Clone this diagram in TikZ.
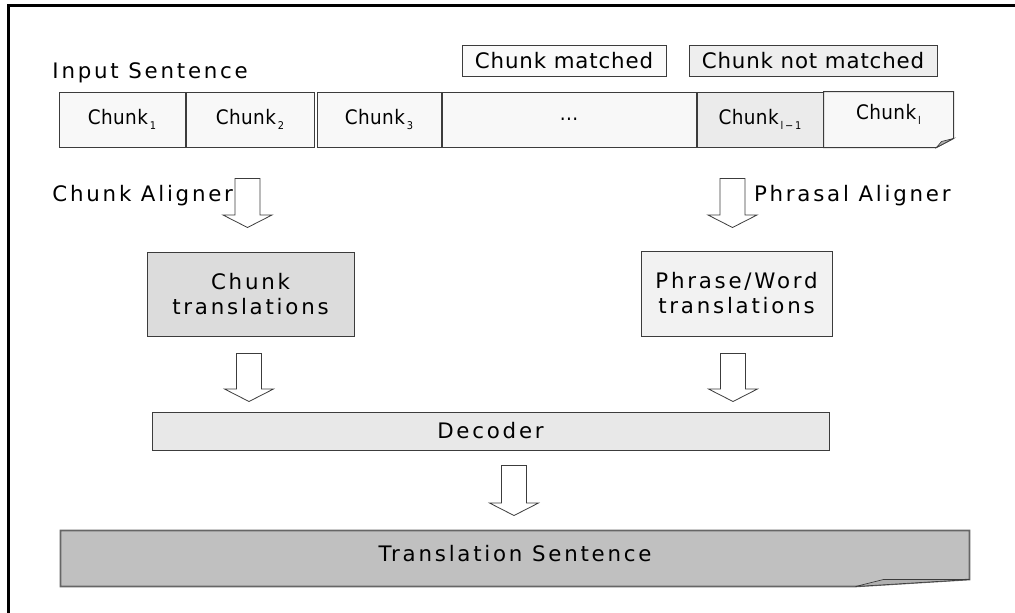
\documentclass[tikz,border=0pt]{standalone}
\usepackage{fontspec}
\setmainfont{DejaVu Sans}
\newfontfamily\wideface{DejaVu Sans}[LetterSpace=13]
\newfontfamily\legendface{DejaVu Sans}[LetterSpace=4]
\newfontfamily\chunkface{DejaVu Sans}[LetterSpace=2, FakeStretch=0.92]
\usetikzlibrary{positioning,calc}

\definecolor{boxline}{HTML}{3C3C3C}
\definecolor{cellfill}{HTML}{F8F8F8}
\definecolor{openfill}{HTML}{EBEBEB}
\definecolor{matchfill}{HTML}{FAFAFA}
\definecolor{nomatchfill}{HTML}{EEEEEE}
\definecolor{ctransfill}{HTML}{DCDCDC}
\definecolor{ptransfill}{HTML}{F2F2F2}
\definecolor{decoderfill}{HTML}{E8E8E8}
\definecolor{transfill}{HTML}{C0C0C0}
\definecolor{flapfill}{HTML}{B0B0B0}

\tikzset{every picture/.style={line width=0.75pt}}
\tikzset{
    lbl/.style={font=\wideface\fontsize{16}{18.75}\selectfont, inner sep=0pt},
    legendbox/.style={draw=boxline, font=\legendface\fontsize{16}{18}\selectfont, minimum height=23.25pt, inner sep=0pt},
    chunkcell/.style={draw=boxline, fill=cellfill, minimum height=41.25pt, inner sep=0pt, font=\chunkface\fontsize{15}{18}\selectfont},
    stagebox/.style={draw=boxline, font=\wideface\fontsize{16}{18.75}\selectfont, align=center, inner sep=0pt},
    arrowbox/.style={draw=boxline, fill=white, line width=0.6pt, line join=miter}
}
\newcommand{\sub}[1]{\kern1.5pt\raisebox{-3.5pt}{\fontsize{8}{8}\selectfont #1}}
\newcommand{\blockarrow}[2]{%
    \draw[arrowbox] ($(#1)+(-12.5,0)$) -- ($(#2)+(-12.5,-12.5)$) -- ($(#2)+(-24.5,-12.5)$) -- (#2)
        -- ($(#2)+(24.5,-12.5)$) -- ($(#2)+(12.5,-12.5)$) -- ($(#1)+(12.5,0)$) -- cycle;}

\begin{document}
\begin{tikzpicture}[x=0.75pt,y=0.75pt,yscale=-1,xscale=1]
    \clip (0,0) rectangle (1015,612);
    %Frame
    \draw[line width=2.25pt] (8,5) rectangle (1040,640);

    %Legend
    \node[legendbox, fill=matchfill, minimum width=153pt] (lmatch) at (564,60.5) {Chunk matched};
    \node[legendbox, fill=nomatchfill, minimum width=186pt] (lnomatch) at (813,60.5) {Chunk not matched};

    %Input sentence
    \node[lbl, anchor=west] (inlabel) at (52,73) {Input Sentence};
    \node[chunkcell, minimum width=94.5pt] (c1) at (122,119.5) {Chunk\sub{1}};
    \node[chunkcell, minimum width=96pt, right=0pt of c1] (c2) {Chunk\sub{2}};
    \node[chunkcell, minimum width=93pt, right=1.5pt of c2] (c3) {Chunk\sub{3}};
    \node[chunkcell, minimum width=190.5pt, right=0pt of c3] (c4) {...};
    \node[chunkcell, fill=openfill, minimum width=94.5pt, right=0pt of c4] (c5) {Chunk\sub{l\,−\,1}};
    \node[chunkcell, draw=none, fill=none, minimum width=96.75pt, right=0pt of c5] (c6) {};
    %folded corner
    \draw[draw=boxline, fill=cellfill] (c6.north west) -- (c6.north east) -- ($(c6.south east)+(0,-9)$)
        -- ($(c6.south east)+(-17,0)$) -- (c6.south west) -- cycle;
    \draw[draw=boxline, fill=flapfill, line width=0.5pt] ($(c6.south east)+(0,-9)$) -- ($(c6.south east)+(-12,-6)$)
        -- ($(c6.south east)+(-17,0)$) -- cycle;
    \node[chunkcell, draw=none, fill=none] (c6text) at ($(c6)+(0,-5)$) {Chunk\sub{l}};

    %Stage boxes
    \node[stagebox, fill=ctransfill, minimum width=155.25pt, minimum height=63pt] (ctrans) at (250.5,294) {Chunk\\translations};
    \node[stagebox, fill=ptransfill, minimum width=143.25pt, minimum height=63.75pt] (ptrans) at (736.5,293.5) {Phrase/Word\\translations};
    \node[stagebox, fill=decoderfill, minimum width=507.75pt, minimum height=28.5pt] (decoder) at (490.5,431) {Decoder};
    \node[stagebox, draw=none, minimum width=681pt, minimum height=41.25pt] (trans) at (515,558.5) {};
    \draw[draw=black!60, fill=transfill, line width=1.2pt] (trans.north west) -- (trans.north east) -- ($(trans.south east)+(0,-7)$)
        -- ($(trans.south east)+(-114,0)$) -- (trans.south west) -- cycle;
    \draw[draw=boxline, fill=flapfill, line width=0.5pt] ($(trans.south east)+(0,-7)$) -- ($(trans.south east)+(-86,-7)$)
        -- ($(trans.south east)+(-114,0)$) -- cycle;
    \node[lbl] (transtext) at ($(trans)+(0,-5)$) {Translation Sentence};

    %Arrows
    \coordinate (a1top) at ($(ctrans.north |- c1.south)+(-3,31)$);
    \coordinate (a1tip) at ($(ctrans.north)+(-3,-24)$);
    \coordinate (a2top) at ($(ptrans.north |- c1.south)+(-4,31)$);
    \coordinate (a2tip) at ($(ptrans.north)+(-4,-23)$);
    \coordinate (a3top) at ($(ctrans.south)+(-1.5,17)$);
    \coordinate (a3tip) at ($(decoder.north -| ctrans.south)+(-1.5,-10)$);
    \coordinate (a4top) at ($(ptrans.south)+(-3.5,17)$);
    \coordinate (a4tip) at ($(decoder.north -| ptrans.south)+(-3.5,-10)$);
    \coordinate (a5top) at ($(decoder.south -| trans.north)+(-1,15)$);
    \coordinate (a5tip) at ($(trans.north)+(-1,-15)$);
    \blockarrow{a1top}{a1tip}
    \blockarrow{a2top}{a2tip}
    \blockarrow{a3top}{a3tip}
    \blockarrow{a4top}{a4tip}
    \blockarrow{a5top}{a5tip}

    %Aligner labels
    \node[lbl, anchor=east] (caligner) at ($(a1top)+(-14,17)$) {Chunk Aligner};
    \node[lbl, anchor=west] (paligner) at ($(a2top)+(21,17)$) {Phrasal Aligner};
\end{tikzpicture}
\end{document}
